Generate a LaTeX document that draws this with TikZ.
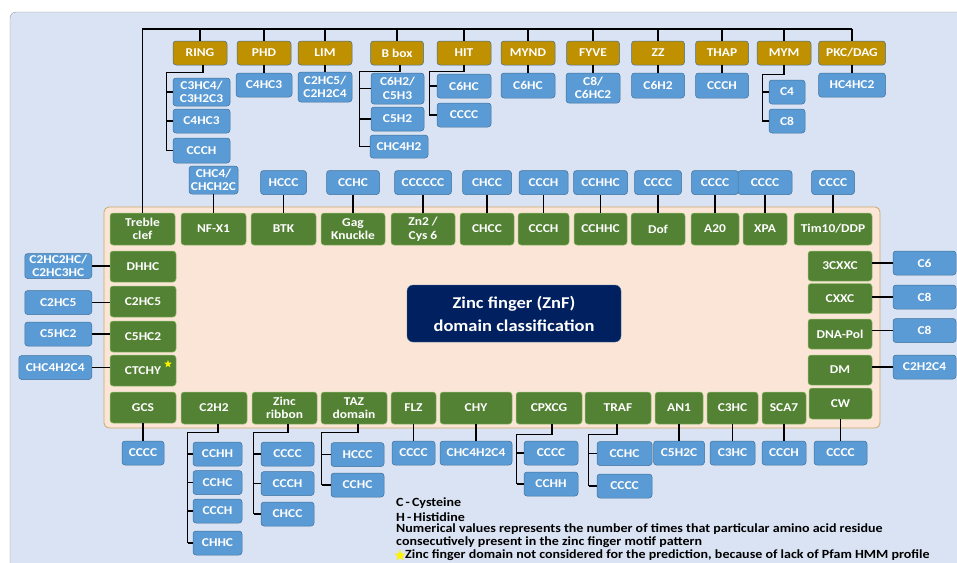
\documentclass[tikz,border=0pt]{standalone}
\usepackage{fontspec}
\setmainfont{Carlito}[FakeStretch=1.12]
\usetikzlibrary{shapes.geometric}
\definecolor{bgblue}{HTML}{DAE3F3}
\definecolor{peach}{HTML}{FBE5D6}
\definecolor{peachline}{HTML}{C9A86B}
\definecolor{boxblue}{HTML}{5B9BD5}
\definecolor{blueline}{HTML}{41719C}
\definecolor{boxgreen}{HTML}{548235}
\definecolor{greenline}{HTML}{8FBF6A}
\definecolor{boxgold}{HTML}{BF9000}
\definecolor{navy}{HTML}{002060}
\begin{document}
\begin{tikzpicture}[x=1pt,y=-1pt,
    box/.style={rounded corners=3pt, inner xsep=0pt, inner ysep=1.5pt, align=center,
      text=white, font=\bfseries\fontsize{12}{13.5}\selectfont, line width=0.5pt},
    blu/.style={box, fill=boxblue, draw=blueline},
    grn/.style={box, fill=boxgreen, draw=greenline},
    gld/.style={box, fill=boxgold, draw=blueline},
    link/.style={line width=1.2pt},
    legend/.style={anchor=west, inner sep=0pt, font=\bfseries\fontsize{12.5}{13.5}\selectfont}]
  \useasboundingbox (0,0) rectangle (957,562);
  % Panels
  \fill[white] (0,0) rectangle (957,562);
  \filldraw[fill=bgblue, draw=gray!80, rounded corners=6pt] (10,12) rectangle (975,580);
  \filldraw[fill=peach, draw=peachline, line width=0.8pt, rounded corners=5pt] (104,207) rectangle (880,428);
  \node[fill=navy, draw=blueline, rounded corners=6pt, text=white, align=center,
        font=\bfseries\fontsize{16.5}{23}\selectfont, minimum width=214pt, minimum height=57pt]
        (title) at (514,313.5) {Zinc finger (ZnF)\\domain classification};

  % Top families
  \foreach \n/\x/\w/\l in {ring/200/54/RING, phd/264/54/PHD, lim/325/54/LIM, bbox/397/53/B box,
      hit/464/54/HIT, mynd/528/54/MYND, fyve/593/53/FYVE, zz/658/53/ZZ, thap/722/53/THAP,
      mym/784/54/MYM, pkc/852/67/{PKC/DAG}}
    \node[gld, minimum width=\w pt, minimum height=24pt] (\n) at (\x,53) {\l};
  \node[grn, minimum width=65pt, minimum height=32pt] (treble) at (142.5,229) {Treble\\clef};
  \coordinate (tl) at (treble.north |- 0,29);
  \coordinate (tr) at (pkc.north |- 0,29);
  \draw[link] (treble.north) -- (tl) -- (tr);
  \foreach \n in {ring,phd,lim,bbox,hit,mynd,fyve,zz,thap,mym,pkc}
    \draw[link] (\n.north) -- (\n.north |- tl);

  \foreach \n/\y/\h/\w/\l in {phd/85/24/56/C4HC3, lim/87/30/54/{C2HC5/\\C2H2C4}, mynd/85.5/25/54/C6HC,
      fyve/88/30/54/{C8/\\C6HC2}, zz/85.5/25/53/C6H2, thap/85.5/25/53/CCCH, pkc/85/24/67/HC4HC2}
  {
    \node[blu, minimum width=\w pt, minimum height=\h pt] (\n1) at (\n.south |- 0,\y) {\l};
    \draw[link] (\n.south) -- (\n1);
  }

  % RING
  \node[blu, minimum width=57pt, minimum height=28pt] (ring1) at (201.5,92) {C3HC4/\\C3H2C3};
  \node[blu, minimum width=57pt, minimum height=24pt] (ring2) at (201.5,121) {C4HC3};
  \node[blu, minimum width=57pt, minimum height=25pt] (ring3) at (201.5,150.5) {CCCH};
  \draw[link] ([xshift=3pt]ring.south) -- ++(0,7) -| ([xshift=-6pt]ring3.west) -- (ring3.west);
  \foreach \c in {ring1,ring2}
    \draw[link] ([xshift=-6pt]\c.west) -- (\c.west);

  % B box
  \node[blu, minimum width=53pt, minimum height=31pt] (bbox1) at (397.5,88.5) {C6H2/\\C5H3};
  \node[blu, minimum width=53pt, minimum height=24pt] (bbox2) at (397.5,119) {C5H2};
  \node[blu, minimum width=58pt, minimum height=23pt] (bbox3) at (399,146.5) {CHC4H2};
  \draw[link] ([xshift=3pt]bbox.south) -- ++(0,6) -| ([xshift=-10pt]bbox3.west) -- (bbox3.west);
  \foreach \c in {bbox1,bbox2}
    \draw[link] ([xshift=-11pt]\c.west) -- (\c.west);

  % HIT
  \node[blu, minimum width=54pt, minimum height=24pt] (hit1) at (464,86) {C6HC};
  \node[blu, minimum width=54pt, minimum height=24pt] (hit2) at (464,115) {CCCC};
  \draw[link] (hit.south) -- ++(0,6) -| ([xshift=-7pt]hit2.west) -- (hit2.west);
  \draw[link] ([xshift=-7pt]hit1.west) -- (hit1.west);

  % MYM
  \node[blu, minimum width=36pt, minimum height=24pt] (mym1) at (787,92) {C4};
  \node[blu, minimum width=36pt, minimum height=24pt] (mym2) at (787,121) {C8};
  \draw[link] (mym.south) -- ++(0,9) -| ([xshift=-6pt]mym2.west) -- (mym2.west);
  \draw[link] ([xshift=-6pt]mym1.west) -- (mym1.west);

  % Upper row of the inner panel
  \foreach \n/\x/\w/\l in {nfx/213.5/65/NF-X1, btk/283.5/65/BTK, gag/353/64/Gag\\Knuckle,
      zn/423/64/{Zn2 /\\Cys 6}, chcc/487/54/CHCC, ccch/543.5/51/CCCH, cchhc/600.5/53/CCHHC,
      dof/658/54/Dof, a20/715/48/A20, xpa/765/44/XPA, tim/833/78/{Tim10/DDP}}
    \node[grn, minimum width=\w pt, minimum height=32pt] (\n) at (\x,229) {\l};
  \foreach \n/\w/\l in {btk/46/HCCC, gag/53/CCHC, zn/57/CCCCCC, chcc/49/CHCC, ccch/49/CCCH,
      cchhc/54/CCHHC, dof/47/CCCC, a20/47/CCCC, xpa/54/CCCC, tim/43/CCCC}
  {
    \node[blu, minimum width=\w pt, minimum height=24pt] (\n1) at (\n.north |- 0,182.5) {\l};
    \draw[link] (\n.north) -- (\n1);
  }
  \node[blu, minimum width=49pt, minimum height=28pt] (nfx1) at (nfx.north |- 0,180) {CHC4/\\CHCH2C};
  \draw[link] (nfx.north) -- (nfx1);

  % Left column
  \foreach \n/\y/\l in {dhhc/266.5/DHHC, chc5/301.5/C2HC5, c5hc/336.5/C5HC2, ctchy/370.5/CTCHY, gcs/407.5/GCS}
    \node[grn, minimum width=66pt, minimum height=31pt] (\n) at (143,\y) {\l};
  \foreach \n/\y/\w/\l in {dhhc/266/67/{C2HC2HC/\\C2HC3HC}, chc5/302.5/67/C2HC5, c5hc/334/67/C5HC2,
      ctchy/367.5/73/CHC4H2C4}
  {
    \node[blu, anchor=east, minimum width=\w pt, minimum height=24pt] (\n1) at (92,\y) {\l};
    \draw[link] (\n1) -- (\n1 -| \n.west);
  }
  \node[star, star points=5, star point ratio=2.4, fill=yellow, inner sep=0pt, minimum size=8pt] (ctstar) at (168,364) {};

  % Right column
  \foreach \n/\y/\l in {cxxx/266/3CXXC, cxxc/298.5/CXXC, dnap/334/DNA-Pol, dm/370/DM}
    \node[grn, minimum width=64pt, minimum height=30pt] (\n) at (840,\y) {\l};
  \node[grn, minimum width=63pt, minimum height=31pt] (cw) at (840.5,403.5) {CW};
  \foreach \n/\y/\l in {cxxx/263/C6, cxxc/297/C8, dnap/330.5/C8, dm/367/C2H2C4}
  {
    \node[blu, minimum width=63pt, minimum height=24pt] (\n1) at (924.5,\y) {\l};
    \draw[link] (\n1) -- (\n1 -| \n.east);
  }

  % Lower row of the inner panel
  \foreach \n/\x/\w/\l in {ctwo/214/66/C2H2, zrib/284.5/65/Zinc\\ribbon, taz/354/66/TAZ\\domain,
      flz/413.5/45/FLZ, chy/476/72/CHY, cpxcg/549/66/CPXCG, traf/618/66/TRAF, an1/679/48/AN1,
      cthc/732.5/51/C3HC, sca7/784/44/SCA7}
    \node[grn, minimum width=\w pt, minimum height=32pt] (\n) at (\x,408) {\l};
  \foreach \n/\w/\l in {gcs/42/CCCC, flz/43/CCCC, chy/72/CHC4H2C4, an1/51/C5H2C, cthc/45/C3HC,
      sca7/44/CCCH, cw/53/CCCC}
  {
    \node[blu, minimum width=\w pt, minimum height=24pt] (\n1) at (\n.south |- 0,453) {\l};
    \draw[link] (\n.south) -- (\n1);
  }

  % C2H2
  \foreach \i/\y/\l in {1/454/CCHH, 2/482.5/CCHC, 3/511/CCCH, 4/543/CHHC}
  {
    \node[blu, minimum width=49pt, minimum height=24pt] (ctwo\i) at (217.5,\y) {\l};
    \draw[link] ([xshift=-5pt]ctwo\i.west) -- (ctwo\i.west);
  }
  \draw[link] ([xshift=4pt]ctwo.south) -- ++(0,8) -| ([xshift=-5pt]ctwo4.west);

  % Zinc ribbon
  \foreach \i/\y/\l in {1/454/CCCC, 2/483.5/CCCH, 3/514/CHCC}
  {
    \node[blu, minimum width=53pt, minimum height=24pt] (zrib\i) at (287.5,\y) {\l};
    \draw[link] ([xshift=-7pt]zrib\i.west) -- (zrib\i.west);
  }
  \draw[link] ([xshift=3.5pt]zrib.south) -- ++(0,8) -| ([xshift=-7pt]zrib3.west);

  % TAZ domain
  \foreach \i/\y/\l in {1/454.5/HCCC, 2/485/CCHC}
  {
    \node[blu, minimum width=53pt, minimum height=24pt] (taz\i) at (357.5,\y) {\l};
    \draw[link] ([xshift=-9pt]taz\i.west) -- (taz\i.west);
  }
  \draw[link] ([xshift=4pt]taz.south) -- ++(0,8) -| ([xshift=-9pt]taz2.west);

  % CPXCG
  \foreach \i/\y/\l in {1/453/CCCC, 2/484/CCHH}
  {
    \node[blu, minimum width=54pt, minimum height=24pt] (cpxcg\i) at (551,\y) {\l};
    \draw[link] ([xshift=-7pt]cpxcg\i.west) -- (cpxcg\i.west);
  }
  \draw[link] ([xshift=3pt]cpxcg.south) -- ++(0,10) -| ([xshift=-7pt]cpxcg2.west);

  % TRAF
  \foreach \i/\y/\l in {1/453.5/CCHC, 2/486/CCCC}
  {
    \node[blu, minimum width=55pt, minimum height=24pt] (traf\i) at (624.5,\y) {\l};
    \draw[link] ([xshift=-8pt]traf\i.west) -- (traf\i.west);
  }
  \draw[link] ([xshift=-1pt]traf.south) -- ++(0,10) -| ([xshift=-8pt]traf2.west);

  % Legend
  \node[legend] (leg1) at (396,503.5) {C\,-\,Cysteine};
  \node[legend] (leg2) at (396,517) {H\,-\,Histidine};
  \node[legend] (leg3) at (396,529.5) {Numerical values represents the number of times that particular amino acid residue};
  \node[legend] (leg4) at (396,542.5) {consecutively present in the zinc finger motif pattern};
  \node[star, star points=5, star point ratio=2.4, fill=yellow, inner sep=0pt, minimum size=12pt] (legstar) at (400,555.5) {};
  \node[legend] (leg5) at (405,555.5) {Zinc finger domain not considered for the prediction, because of lack of Pfam HMM profile};
\end{tikzpicture}
\end{document}
